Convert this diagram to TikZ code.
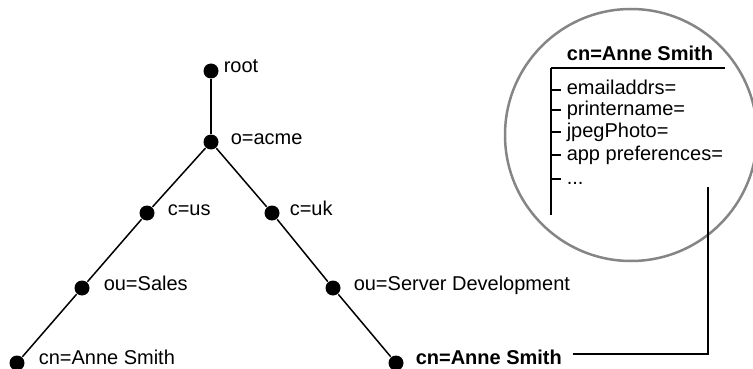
\documentclass[tikz,border=0pt]{standalone}
\usepackage{fontspec}
\setmainfont{Liberation Sans}

\begin{document}
\begin{tikzpicture}[x=1pt,y=-1pt,line width=1.5pt,
  vtx/.style={circle,fill,inner sep=0pt,minimum size=15pt},
  lbl/.style={anchor=base west,inner sep=0pt,font=\fontsize{20}{24}\selectfont},
  attr/.style={anchor=base west,inner sep=0pt,font=\fontsize{20}{20}\selectfont}]
\useasboundingbox (0,0) rectangle (753,369);
% directory tree
\node[vtx] (root) at (211,71) {};  \node[lbl] (rootl) at (223,73) {root};
\node[vtx] (acme) at (211,142) {}; \node[lbl] (acmel) at (230,144) {o=acme};
\node[vtx] (us) at (147,213) {};   \node[lbl] (usl) at (167,215) {c=us};
\node[vtx] (uk) at (272,213) {};   \node[lbl] (ukl) at (289,215) {c=uk};
\node[vtx] (sales) at (82,288) {}; \node[lbl] (salesl) at (103,290) {ou=Sales};
\node[vtx] (dev) at (333,288) {};  \node[lbl] (devl) at (353,290) {ou=Server Development};
\node[vtx] (cna) at (17,363) {};   \node[lbl] (cnal) at (38,364) {cn=Anne Smith};
\node[vtx] (cnb) at (396,363) {};  \node[lbl,font=\fontsize{20}{24}\selectfont\bfseries] (cnbl) at (415,364) {cn=Anne Smith};
\draw (root) to (acme);
\draw (acme) to (us); \draw (us) to (sales); \draw (sales) to (cna);
\draw (acme) to (uk); \draw (uk) to (dev); \draw (dev) to (cnb);
% the entry, seen close up
\draw[black!48,line width=2.5pt] (631,135) circle[radius=126];
\node[lbl,anchor=base,font=\fontsize{20}{24}\selectfont\bfseries] (title) at (640,61) {cn=Anne Smith};
\draw[line width=1.3pt] (551,68) -- (725,68);
\draw[line width=1.3pt] (551,68) -- (551,215);
\foreach \y/\t in {90/emailaddrs=,110/printername=,132/jpegPhoto=,155/app preferences=}
{ \draw[line width=1.3pt] (551,\y) -- (561,\y); \node[attr] (att\y) at (566,\y+5) {\t}; }
\draw[line width=1.3pt] (551,179) -- (561,179); \node[attr] (more) at (566,184) {...};
\coordinate (rec) at (708,187);
\draw[line width=1.3pt] (cnbl.east) ++(10,-3) -| (rec);
\end{tikzpicture}
\end{document}
